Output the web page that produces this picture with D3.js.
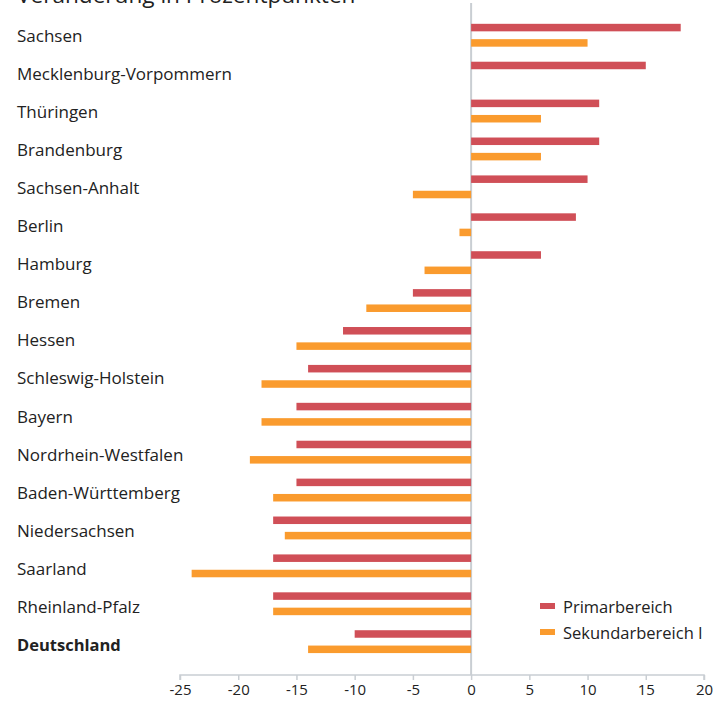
<!DOCTYPE html>
<html><head><meta charset="utf-8">
<script src="https://cdn.jsdelivr.net/npm/d3@7"></script>
<style>
html,body{margin:0;padding:0;background:#fff;}
svg{display:block;font-family:"Open Sans","Noto Sans",sans-serif;}
</style></head>
<body>
<svg id="c" width="718" height="701"></svg>
<script>
const categories = ["Sachsen","Mecklenburg-Vorpommern","Thüringen","Brandenburg","Sachsen-Anhalt","Berlin","Hamburg","Bremen","Hessen","Schleswig-Holstein","Bayern","Nordrhein-Westfalen","Baden-Württemberg","Niedersachsen","Saarland","Rheinland-Pfalz","Deutschland"];
const primarbereich = [18,15,11,11,10,9,6,-5,-11,-14,-15,-15,-15,-17,-17,-17,-10];
const sekundarbereichI = [10,null,6,6,-5,-1,-4,-9,-15,-18,-18,-19,-17,-16,-24,-17,-14];
const seriesNames = ["Primarbereich","Sekundarbereich I"];
const xTicks = [-25,-20,-15,-10,-5,0,5,10,15,20];
const title = "Veränderung in Prozentpunkten";

const colors = {"Primarbereich":"#d04f57","Sekundarbereich I":"#fa9b2e"};
const svg = d3.select("#c");
const x = d3.scaleLinear().domain([-25,20]).range([180,704]);
const y = d3.scaleBand().domain(categories).range([16.3,660.6]);
const yi = d3.scaleBand().domain(seriesNames).range([0,y.bandwidth()]).paddingInner(0.51).paddingOuter(0.49);

svg.append("text").attr("x",17).attr("y",2.5).attr("font-size",22.6).attr("fill","#222").text(title);

const axisY = 675;
svg.append("line").attr("x1",x(0)).attr("x2",x(0)).attr("y1",3).attr("y2",axisY)
  .attr("stroke","#c9ced3").attr("stroke-width",2);

const data = [];
categories.forEach((c,i)=>{
  data.push({c, s:"Primarbereich", v:primarbereich[i]});
  if (sekundarbereichI[i]!==null) data.push({c, s:"Sekundarbereich I", v:sekundarbereichI[i]});
});
svg.append("g").selectAll("rect").data(data).join("rect")
  .attr("x",d=>x(Math.min(0,d.v)))
  .attr("width",d=>Math.abs(x(d.v)-x(0)))
  .attr("y",d=>y(d.c)+yi(d.s))
  .attr("height",yi.bandwidth())
  .attr("fill",d=>colors[d.s]);

svg.append("g").selectAll("text").data(categories).join("text")
  .attr("x",17).attr("y",(d,i)=>y(d)+y.bandwidth()/2+0.8+i*0.15).attr("dy","0.35em")
  .attr("font-size",d=>d==="Deutschland"?16.5:17).attr("fill","#222")
  .attr("font-weight",d=>d==="Deutschland"?"bold":"normal")
  .text(d=>d);

const ax = svg.append("g").attr("transform",`translate(0,${axisY})`)
  .call(d3.axisBottom(x).tickValues(xTicks).tickSize(5).tickPadding(4).tickFormat(d=>String(d)));
ax.select(".domain").attr("stroke","#c9ced3").attr("stroke-width",1.5).attr("d",`M${x(-25)},5V0H${x(20)}V5`);
ax.selectAll(".tick line").attr("stroke","#c9ced3").attr("stroke-width",1.5);
ax.selectAll(".tick text").attr("font-size",15).attr("fill","#222").attr("font-family","'Open Sans','Noto Sans',sans-serif");

const lg = svg.append("g");
seriesNames.forEach((s,i)=>{
  lg.append("rect").attr("x",540).attr("y",603+i*26).attr("width",15).attr("height",6).attr("fill",colors[s]);
  lg.append("text").attr("x",563).attr("y",607+i*26).attr("dy","0.35em").attr("font-size",16.5).attr("fill","#222").text(s);
});
</script>
</body></html>
